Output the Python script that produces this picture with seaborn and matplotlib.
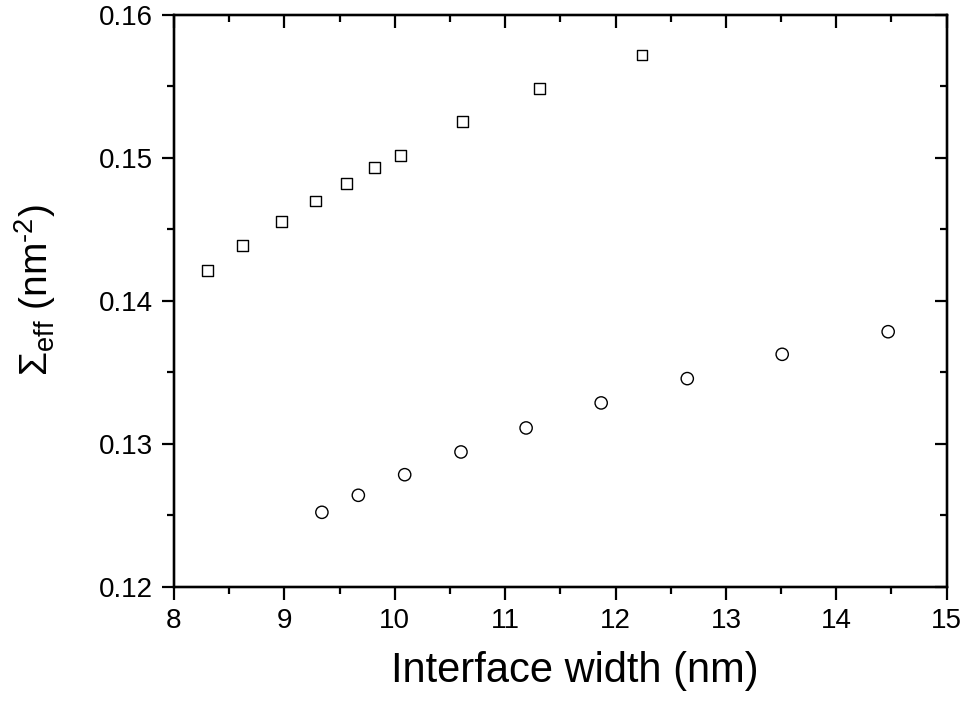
import numpy as np
import pandas as pd
import matplotlib
matplotlib.use('Agg')
import matplotlib.pyplot as plt
from matplotlib.ticker import MultipleLocator
import seaborn as sns

# upper series (squares)
sq_x = [8.30, 8.62, 8.97, 9.28, 9.56, 9.82, 10.05, 10.61, 11.31, 12.24]
sq_y = [0.1421, 0.14385, 0.14555, 0.14699, 0.14823, 0.14932, 0.15019, 0.15252, 0.15483, 0.1572]

# lower series (circles)
ci_x = [9.34, 9.67, 10.09, 10.60, 11.19, 11.87, 12.65, 13.51, 14.47]
ci_y = [0.12522, 0.12641, 0.12785, 0.12944, 0.13112, 0.13287, 0.13457, 0.13627, 0.13785]

x_ticks = [8, 9, 10, 11, 12, 13, 14, 15]
y_ticks = [0.12, 0.13, 0.14, 0.15, 0.16]

sns.set_style('white')
plt.rcParams['font.family'] = ['Liberation Sans', 'DejaVu Sans']
plt.rcParams['mathtext.fontset'] = 'custom'
plt.rcParams['mathtext.rm'] = 'Liberation Sans'
plt.rcParams['mathtext.it'] = 'Liberation Sans'
for k in ['text.color', 'axes.labelcolor', 'xtick.color', 'ytick.color', 'axes.edgecolor']:
    plt.rcParams[k] = 'black'

fig = plt.figure(figsize=(9.65, 7.07), dpi=100)
ax = fig.add_axes([0.1803, 0.1698, 0.981 - 0.1803, 0.9788 - 0.1698])

sq = pd.DataFrame({'x': sq_x, 'y': sq_y})
ci = pd.DataFrame({'x': ci_x, 'y': ci_y})
sns.scatterplot(data=sq, x='x', y='y', marker='s', s=62, facecolor='none',
                edgecolor='black', linewidth=1.0, ax=ax, zorder=3)
sns.scatterplot(data=ci, x='x', y='y', marker='o', s=78, facecolor='none',
                edgecolor='black', linewidth=1.0, ax=ax, zorder=3)

ax.set_xlim(8, 15)
ax.set_ylim(0.12, 0.16)
ax.set_xticks(x_ticks)
ax.set_yticks(y_ticks)
ax.set_xticklabels([str(v) for v in x_ticks])
ax.set_yticklabels([f'{v:.2f}' for v in y_ticks])
ax.xaxis.set_minor_locator(MultipleLocator(0.5))
ax.yaxis.set_minor_locator(MultipleLocator(0.005))

for s in ax.spines.values():
    s.set_linewidth(1.6)
    s.set_color('black')

ax.tick_params(which='both', direction='out', width=1.6, color='black',
               labelcolor='black', labelsize=20, pad=6, top=False, right=False)
ax.tick_params(which='major', length=9)
ax.tick_params(which='minor', length=5)

# inward ticks on top and right
tx = ax.twiny()
tx.set_xlim(ax.get_xlim())
tx.set_xticks(x_ticks)
tx.xaxis.set_minor_locator(MultipleLocator(0.5))
tx.tick_params(which='both', direction='in', width=1.6, color='black', labeltop=False)
tx.tick_params(which='major', length=9)
tx.tick_params(which='minor', length=5)
ty = ax.twinx()
ty.set_ylim(ax.get_ylim())
ty.set_yticks(y_ticks)
ty.yaxis.set_minor_locator(MultipleLocator(0.005))
ty.tick_params(which='both', direction='in', width=1.6, color='black', labelright=False)
ty.tick_params(which='major', length=9)
ty.tick_params(which='minor', length=5)
for a in (tx, ty):
    for s in a.spines.values():
        s.set_linewidth(1.6)
        s.set_color('black')

ax.set_xlabel('Interface width (nm)', fontsize=30, color='black')
ax.set_ylabel(r'$\Sigma_{\mathrm{eff}}$ (nm$^{\text{-}2}$)', fontsize=28, color='black')
ax.xaxis.set_label_coords(0.519, -0.112)
ax.yaxis.set_label_coords(-0.150, 0.519)

fig.savefig('out.png', dpi=100)
